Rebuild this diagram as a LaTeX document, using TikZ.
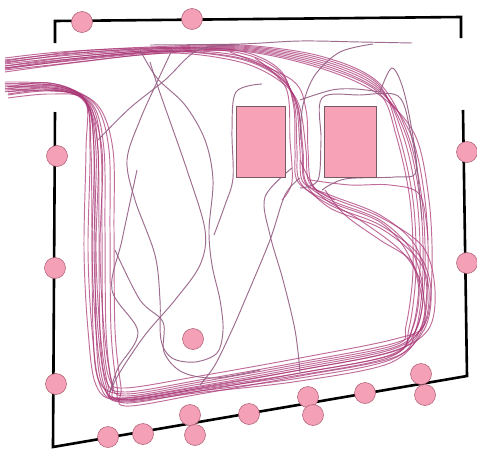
\documentclass[tikz,border=0pt]{standalone}
\definecolor{trajc}{RGB}{168,52,116}
\definecolor{trajg}{RGB}{146,92,130}
\definecolor{dotfill}{RGB}{244,160,182}
\definecolor{dotline}{RGB}{170,90,112}
\definecolor{boxfill}{RGB}{247,162,182}
\definecolor{boxline}{RGB}{120,90,100}
\tikzset{
  frame/.style={line width=2.6pt, draw=black, line join=miter},
  lane/.style={draw=trajc, line width=0.95pt, opacity=0.72},
  single/.style={draw=trajg, line width=0.95pt, opacity=0.9},
  dot/.style={circle, fill=dotfill, draw=dotline, line width=0.5pt, minimum size=21pt, inner sep=0pt},
  box/.style={fill=boxfill, draw=boxline, line width=0.7pt}
}
\begin{document}
\begin{tikzpicture}[x=1pt,y=-1pt]
\useasboundingbox (0,0) rectangle (477,450);
% frame
\draw[frame] (55,43) -- (55,21) -- (461,17) -- (461,38);
\draw[frame] (463,110) -- (467,376) -- (53,447) -- (55,112);
% main loops along the walls
\foreach \oa/\ob/\oc/\od in {0/0/0/0, 4/6/4/-5, 8/-4/8/3, 2/11/11/-9, 12/3/-4/7, 6/15/14/-2, 10/-7/2/-12} {
  \draw[lane] plot[smooth, tension=0.55] coordinates {
    (5,58+\oa) (60,52+\oa) (150,47+0.6*\oa) (240,45+0.5*\oa) (320,56+\oa) (378,82+\oa)
    (408+\od,135) (422+\od,200) (425+\od,270) (418+\od,325+0.3*\oc) (395,343+\oc)
    (300,362+\oc) (200,380+\oc) (125,392+\oc) (106+\ob,380+0.5*\oc) (100+\ob,330)
    (99+\ob,230) (98+\ob,150) (90+0.5*\ob,105) (60,85+0.5*\oa) (5,82+0.8*\oa)};
}
% loops through the gap between the boxes
\foreach \oa/\ob/\oc in {0/0/0, 3/5/-4, -3/10/4, 6/2/8, -5/7/-8, 2/13/2} {
  \draw[lane] plot[smooth, tension=0.55] coordinates {
    (5,66+\oa) (80,56+\oa) (170,50+0.5*\oa) (240,56+\oa) (280,75+\oa) (296+0.5*\oa,105)
    (300+\oa,150) (303+\oa,182) (330,195+\ob) (380,215+\ob) (415+\oc,245+\ob)
    (427+\oc,290) (420+\oc,330) (390,350+\ob) (300,368+\ob) (200,386+0.5*\ob)
    (120,398+0.3*\ob) (104+\oc,385) (96+\oc,330) (92+\oc,250) (94+\oc,150) (85,100)
    (50,88+\oa) (8,92+\oa)};
}
% extra lanes from the gap to the right wall
\draw[lane] plot[smooth, tension=0.55] coordinates {(300,160) (320,195) (360,220) (400,250) (420,280) (425,320) (415,336)};
\draw[lane] plot[smooth, tension=0.55] coordinates {(310,180) (350,185) (390,185) (420,195) (428,240)};
\draw[lane] plot[smooth, tension=0.55] coordinates {(325,190) (345,215) (380,240) (412,262) (422,300)};
\draw[lane] plot[smooth, tension=0.55] coordinates {(255,58) (286,88) (290,140) (292,182) (282,200)};
\draw[lane] plot[smooth, tension=0.55] coordinates {(230,52) (292,80) (306,110) (308,150) (312,185) (335,200)};
% single runs
\draw[single] plot[smooth, tension=0.55] coordinates {(150,45) (240,44) (300,41) (360,42) (412,43)};
\draw[single] plot[smooth, tension=0.55] coordinates {(373,44) (340,52) (315,75) (303,105) (300,140)};
\draw[single] plot[smooth, tension=0.55] coordinates {(98,140) (130,108) (165,80) (198,50) (240,45)};
\draw[single] plot[smooth, tension=0.55] coordinates {(172,50) (158,80) (140,120) (127,160) (135,200) (155,255) (160,300) (161,340) (172,358) (195,362) (217,353) (223,330) (220,300) (212,265) (209,230) (213,180) (205,140) (185,105) (157,78) (140,50)};
\draw[single] plot[smooth, tension=0.55] coordinates {(150,62) (160,93) (187,170) (205,230) (200,265) (175,300) (145,335) (120,372) (110,392)};
\draw[single] plot[smooth, tension=0.55] coordinates {(137,170) (122,240) (112,290) (138,332) (118,368) (110,392)};
\draw[single] plot[smooth, tension=0.55] coordinates {(115,250) (140,300) (163,322) (164,352) (182,372) (215,378) (260,370)};
\draw[single] plot[smooth, tension=0.55] coordinates {(300,178) (285,195) (270,240) (245,300) (232,330) (215,365) (200,385)};
\draw[single] plot[smooth, tension=0.55] coordinates {(292,168) (265,197) (270,235) (283,280) (295,330) (300,372)};
\draw[single] plot[smooth, tension=0.55] coordinates {(262,84) (236,92) (232,130) (233,178) (225,205) (214,235)};
\draw[single] plot[smooth, tension=0.55] coordinates {(300,188) (318,180) (321,140) (322,98) (360,95) (398,96) (410,130) (416,172) (395,177) (345,179) (322,190)};
\draw[single] plot[smooth, tension=0.55] coordinates {(380,92) (392,68) (404,92) (415,150) (422,220)};
\draw[single] plot[smooth, tension=0.55] coordinates {(300,100) (332,90) (356,89) (380,92)};
% boxes
\draw[box] (236,106) rectangle (285,177);
\draw[box] (324,106) rectangle (376,177);
% markers
\node[dot] (d1) at (82,22) {};
\node[dot] (d2) at (192,19) {};
\node[dot] (d3) at (57,156) {};
\node[dot] (d4) at (55,268) {};
\node[dot] (d5) at (56,384) {};
\node[dot] (d6) at (467,152) {};
\node[dot] (d7) at (467,263) {};
\node[dot] (d8) at (108,437) {};
\node[dot] (d9) at (143,434) {};
\node[dot] (d10) at (190,415) {};
\node[dot] (d11) at (195,435) {};
\node[dot] (d12) at (249,414) {};
\node[dot] (d13) at (308,397) {};
\node[dot] (d14) at (313,415) {};
\node[dot] (d15) at (365,393) {};
\node[dot] (d16) at (421,374) {};
\node[dot] (d17) at (425,395) {};
\node[dot] (d18) at (193,339) {};
\end{tikzpicture}
\end{document}
